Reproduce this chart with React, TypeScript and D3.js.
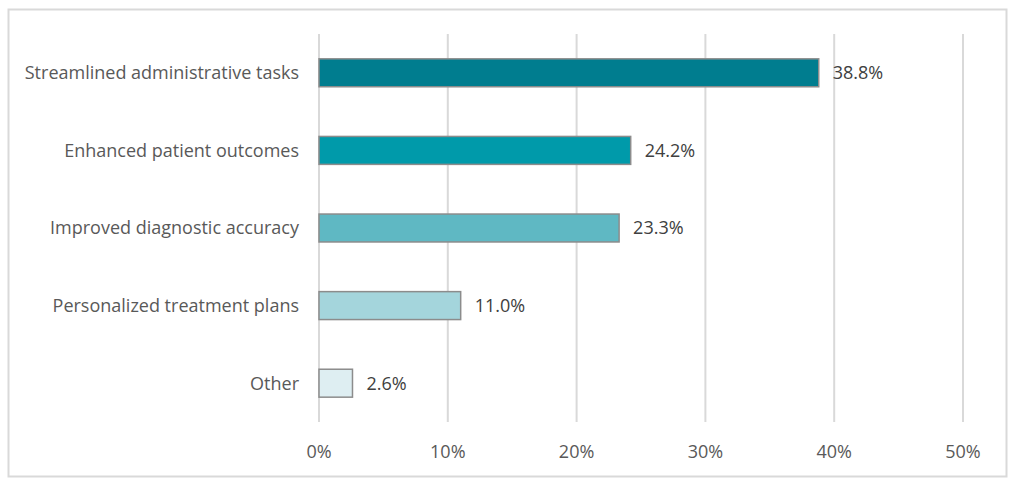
import React, { useEffect, useRef } from 'react';
import * as d3 from 'd3';

const categories = [
  'Streamlined administrative tasks',
  'Enhanced patient outcomes',
  'Improved diagnostic accuracy',
  'Personalized treatment plans',
  'Other',
];
const values = [38.8, 24.2, 23.3, 11.0, 2.6];
const barColors = ['#007D8F', '#009AAA', '#5FB8C3', '#A4D5DC', '#DEEEF2'];
const ticks = [0, 10, 20, 30, 40, 50];

const W = 1024;
const H = 488;

const App: React.FC = () => {
  const svgRef = useRef<SVGSVGElement>(null);

  useEffect(() => {
    if (!svgRef.current) return;
    const svg = d3.select(svgRef.current);
    svg.selectAll('*').remove();

    const font = '"Open Sans", "Segoe UI", sans-serif';

    // outer frame
    svg
      .append('rect')
      .attr('x', 8.5)
      .attr('y', 9.5)
      .attr('width', 998)
      .attr('height', 467)
      .attr('fill', '#fff')
      .attr('stroke', '#d9d9d9')
      .attr('stroke-width', 2);

    const x = d3.scaleLinear().domain([0, 50]).range([319, 963]);
    const y = d3.scaleBand().domain(categories).range([34, 422]).paddingInner(0.64).paddingOuter(0.32);

    // gridlines
    svg
      .append('g')
      .selectAll('line')
      .data(ticks)
      .join('line')
      .attr('x1', (d) => x(d))
      .attr('x2', (d) => x(d))
      .attr('y1', 34)
      .attr('y2', 422)
      .attr('stroke', '#d9d9d9')
      .attr('stroke-width', 2);

    // tick labels
    svg
      .append('g')
      .selectAll('text')
      .data(ticks)
      .join('text')
      .attr('x', (d) => x(d))
      .attr('y', 452)
      .attr('dy', '0.35em')
      .attr('text-anchor', 'middle')
      .attr('font-family', font)
      .attr('font-size', 18)
      .attr('fill', '#595959')
      .text((d) => `${d}%`);

    // bars
    svg
      .append('g')
      .selectAll('rect')
      .data(values)
      .join('rect')
      .attr('x', x(0))
      .attr('y', (_, i) => y(categories[i]) as number)
      .attr('width', (d) => x(d) - x(0))
      .attr('height', y.bandwidth())
      .attr('fill', (_, i) => barColors[i])
      .attr('stroke', '#8c8c8c')
      .attr('stroke-width', 1.5);

    // category labels
    svg
      .append('g')
      .selectAll('text')
      .data(categories)
      .join('text')
      .attr('x', 299)
      .attr('y', (d) => (y(d) as number) + y.bandwidth() / 2)
      .attr('dy', '0.35em')
      .attr('text-anchor', 'end')
      .attr('font-family', font)
      .attr('font-size', 18)
      .attr('fill', '#595959')
      .text((d) => d);

    // value labels
    svg
      .append('g')
      .selectAll('text')
      .data(values)
      .join('text')
      .attr('x', (d) => x(d) + 14)
      .attr('y', (_, i) => (y(categories[i]) as number) + y.bandwidth() / 2)
      .attr('dy', '0.35em')
      .attr('font-family', font)
      .attr('font-size', 18)
      .attr('fill', '#404040')
      .text((d) => `${d.toFixed(1)}%`);
  }, []);

  return (
    <svg
      ref={svgRef}
      width={W}
      height={H}
      style={{ position: 'absolute', left: 0, top: 0, background: '#fff' }}
    />
  );
};

export default App;
